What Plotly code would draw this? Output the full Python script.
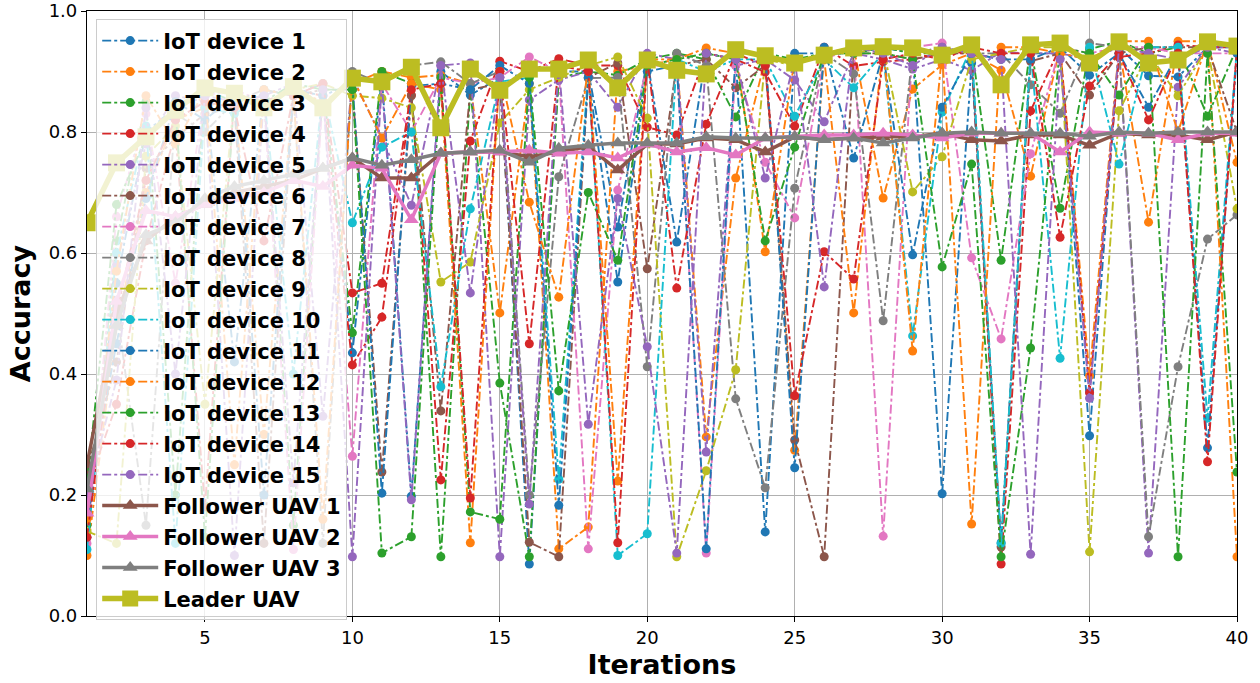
import plotly.graph_objects as go

iterations = list(range(1, 41))

iot_1 = [0.18,0.55,0.80,0.84,0.86,0.42,0.87,0.86,0.88,0.435,
         0.89,0.198,0.90,0.861,0.89,0.086,0.90,0.90,0.643,0.92,
         0.618,0.93,0.92,0.139,0.93,0.93,0.93,0.94,0.93,0.202,
         0.914,0.121,0.93,0.93,0.298,0.94,0.893,0.891,0.94,0.94]
iot_2 = [0.10,0.48,0.70,0.82,0.84,0.86,0.30,0.87,0.85,0.88,
         0.90,0.89,0.894,0.88,0.501,0.88,0.111,0.147,0.90,0.91,
         0.92,0.296,0.724,0.92,0.274,0.93,0.94,0.691,0.871,0.911,
         0.93,0.902,0.727,0.94,0.397,0.94,0.651,0.95,0.95,0.750]
iot_3 = [0.15,0.62,0.85,0.20,0.87,0.85,0.86,0.15,0.87,0.468,
         0.90,0.88,0.098,0.87,0.385,0.098,0.89,0.90,0.894,0.92,
         0.93,0.92,0.825,0.93,0.92,0.93,0.93,0.94,0.93,0.93,
         0.94,0.588,0.94,0.674,0.937,0.95,0.93,0.94,0.826,0.94]
iot_4 = [0.21,0.35,0.62,0.80,0.18,0.86,0.85,0.87,0.86,0.415,
         0.494,0.861,0.225,0.785,0.917,0.90,0.921,0.91,0.91,0.808,
         0.795,0.93,0.92,0.899,0.81,0.94,0.909,0.916,0.92,0.93,
         0.93,0.086,0.835,0.94,0.369,0.924,0.93,0.944,0.94,0.94]
iot_5 = [0.13,0.58,0.78,0.86,0.85,0.10,0.86,0.88,0.33,0.89,
         0.79,0.679,0.91,0.914,0.098,0.853,0.886,0.90,0.841,0.93,
         0.92,0.271,0.91,0.92,0.886,0.817,0.93,0.92,0.904,0.92,
         0.902,0.932,0.93,0.93,0.92,0.94,0.104,0.874,0.94,0.93]
iot_6 = [0.24,0.42,0.74,0.79,0.83,0.84,0.12,0.86,0.87,0.87,
         0.238,0.86,0.339,0.87,0.88,0.122,0.098,0.89,0.914,0.574,
         0.91,0.92,0.873,0.91,0.291,0.098,0.93,0.93,0.92,0.93,
         0.93,0.114,0.917,0.93,0.861,0.93,0.94,0.94,0.94,0.80]
iot_7 = [0.12,0.66,0.83,0.55,0.86,0.87,0.85,0.11,0.86,0.264,
         0.88,0.80,0.89,0.88,0.89,0.924,0.90,0.111,0.704,0.91,
         0.91,0.104,0.91,0.75,0.658,0.92,0.94,0.132,0.94,0.947,
         0.592,0.458,0.764,0.94,0.93,0.94,0.94,0.93,0.93,0.93]
iot_8 = [0.17,0.51,0.15,0.83,0.80,0.85,0.87,0.86,0.12,0.90,
         0.88,0.91,0.916,0.88,0.90,0.20,0.726,0.889,0.89,0.412,
         0.93,0.91,0.359,0.212,0.707,0.93,0.896,0.488,0.93,0.94,
         0.93,0.93,0.878,0.831,0.947,0.94,0.131,0.412,0.623,0.663]
iot_9 = [0.14,0.12,0.76,0.81,0.35,0.86,0.84,0.87,0.88,0.86,
         0.856,0.84,0.552,0.585,0.815,0.87,0.89,0.91,0.924,0.823,
         0.098,0.240,0.407,0.92,0.91,0.93,0.93,0.94,0.701,0.759,
         0.92,0.93,0.94,0.94,0.106,0.835,0.93,0.86,0.94,0.673]
iot_10 = [0.11,0.60,0.81,0.12,0.84,0.83,0.86,0.40,0.87,0.65,
          0.775,0.80,0.379,0.673,0.883,0.89,0.226,0.90,0.10,0.136,
          0.92,0.90,0.92,0.92,0.826,0.92,0.873,0.93,0.463,0.833,
          0.94,0.12,0.93,0.426,0.94,0.747,0.94,0.94,0.327,0.94]
iot_11 = [0.19,0.45,0.69,0.85,0.82,0.86,0.20,0.87,0.86,0.88,
          0.203,0.876,0.88,0.87,0.91,0.88,0.183,0.89,0.552,0.90,
          0.91,0.111,0.93,0.93,0.245,0.94,0.757,0.93,0.597,0.841,
          0.93,0.92,0.92,0.94,0.894,0.93,0.841,0.93,0.278,0.93]
iot_12 = [0.16,0.57,0.86,0.78,0.87,0.25,0.87,0.86,0.16,0.89,
          0.79,0.88,0.87,0.121,0.90,0.684,0.527,0.91,0.223,0.92,
          0.92,0.939,0.93,0.602,0.92,0.92,0.501,0.94,0.438,0.93,
          0.152,0.94,0.94,0.93,0.92,0.95,0.95,0.80,0.95,0.098]
iot_13 = [0.22,0.68,0.79,0.84,0.13,0.86,0.85,0.88,0.87,0.87,
          0.104,0.131,0.89,0.172,0.160,0.89,0.372,0.70,0.588,0.91,
          0.92,0.93,0.92,0.62,0.775,0.93,0.93,0.93,0.92,0.577,
          0.747,0.098,0.443,0.94,0.93,0.861,0.94,0.098,0.93,0.238]
iot_14 = [0.13,0.50,0.72,0.82,0.85,0.84,0.62,0.86,0.88,0.534,
          0.55,0.87,0.88,0.195,0.90,0.45,0.91,0.90,0.121,0.92,
          0.542,0.813,0.93,0.91,0.364,0.602,0.557,0.92,0.93,0.92,
          0.94,0.93,0.93,0.626,0.876,0.93,0.820,0.93,0.255,0.94]
iot_15 = [0.20,0.39,0.84,0.40,0.86,0.85,0.86,0.22,0.87,0.098,
          0.88,0.192,0.91,0.534,0.89,0.185,0.91,0.317,0.69,0.445,
          0.104,0.93,0.92,0.724,0.92,0.544,0.94,0.93,0.91,0.94,
          0.93,0.92,0.102,0.92,0.360,0.94,0.93,0.92,0.94,0.94]

follower_1 = [0.25,0.50,0.62,0.66,0.68,0.70,0.71,0.72,0.74,0.757,
              0.724,0.724,0.765,0.767,0.767,0.759,0.767,0.776,0.737,0.78,
              0.78,0.79,0.787,0.767,0.792,0.787,0.79,0.792,0.792,0.798,
              0.787,0.785,0.795,0.795,0.778,0.798,0.795,0.795,0.787,0.80]
follower_2 = [0.17,0.52,0.67,0.66,0.68,0.69,0.70,0.72,0.71,0.745,
              0.74,0.655,0.765,0.767,0.767,0.770,0.765,0.767,0.757,0.78,
              0.767,0.774,0.762,0.79,0.792,0.795,0.795,0.798,0.795,0.79,
              0.798,0.798,0.798,0.767,0.80,0.798,0.798,0.787,0.798,0.798]
follower_3 = [0.21,0.48,0.63,0.65,0.69,0.71,0.72,0.73,0.74,0.757,
              0.745,0.754,0.765,0.767,0.770,0.750,0.773,0.778,0.782,0.782,
              0.782,0.792,0.79,0.79,0.792,0.787,0.79,0.782,0.79,0.798,
              0.80,0.798,0.798,0.798,0.793,0.80,0.798,0.80,0.80,0.80]
leader = [0.650,0.749,0.792,0.836,0.873,0.864,0.84,0.875,0.84,0.889,
          0.883,0.907,0.807,0.904,0.869,0.904,0.904,0.919,0.873,0.919,
          0.902,0.896,0.936,0.926,0.914,0.927,0.939,0.941,0.939,0.927,
          0.944,0.878,0.944,0.947,0.914,0.949,0.914,0.919,0.949,0.942]

iot_series = [iot_1, iot_2, iot_3, iot_4, iot_5, iot_6, iot_7, iot_8,
              iot_9, iot_10, iot_11, iot_12, iot_13, iot_14, iot_15]
iot_names = [f"IoT device {i}" for i in range(1, 16)]
uav_series = [follower_1, follower_2, follower_3]
uav_names = ["Follower UAV 1", "Follower UAV 2", "Follower UAV 3"]

tab10 = ['#1f77b4', '#ff7f0e', '#2ca02c', '#d62728', '#9467bd',
         '#8c564b', '#e377c2', '#7f7f7f', '#bcbd22', '#17becf']
uav_colors = ['#8c564b', '#e377c2', '#7f7f7f']
leader_color = '#bcbd22'

fig = go.Figure()
for i, (name, ys) in enumerate(zip(iot_names, iot_series)):
    c = tab10[i % 10]
    fig.add_trace(go.Scatter(
        x=iterations, y=ys, name=name, legendgroup=name,
        mode='lines+markers',
        line=dict(color=c, width=1.9, dash='dashdot'),
        marker=dict(color=c, size=9, symbol='circle'),
    ))
for name, ys, c in zip(uav_names, uav_series, uav_colors):
    fig.add_trace(go.Scatter(
        x=iterations, y=ys, name=name, legendgroup=name,
        mode='lines+markers',
        line=dict(color=c, width=3.5),
        marker=dict(color=c, size=13, symbol='triangle-up'),
    ))
fig.add_trace(go.Scatter(
    x=iterations, y=leader, name="Leader UAV", legendgroup="Leader UAV",
    mode='lines+markers',
    line=dict(color=leader_color, width=5.5),
    marker=dict(color=leader_color, size=17, symbol='square'),
))

axis_font = dict(family="DejaVu Sans", size=18, color="black")
title_font = dict(family="DejaVu Sans", size=27, color='black', weight='bold')
fig.update_layout(
    width=1260, height=683,
    margin=dict(l=87, r=23, t=11, b=67),
    plot_bgcolor='white', paper_bgcolor='white',
    font=dict(family="DejaVu Sans", color="black"),
    showlegend=True,
    legend=dict(
        x=0.008, y=0.986, xanchor='left', yanchor='top',
        bgcolor='rgba(255,255,255,0.8)', bordercolor='#cccccc', borderwidth=1,
        font=dict(family="DejaVu Sans", size=21, color='black', weight='bold'),
        tracegroupgap=0.7, itemwidth=56, traceorder='grouped',
    ),
    xaxis=dict(
        range=[1, 40], tickvals=[5, 10, 15, 20, 25, 30, 35, 40],
        showgrid=True, gridcolor='#b0b0b0', gridwidth=1,
        showline=True, linecolor='black', linewidth=1.2, mirror=True,
        ticks='outside', ticklen=5, tickcolor='black', tickfont=axis_font,
        zeroline=False, automargin=False,
        title=dict(text="Iterations", font=title_font, standoff=8),
    ),
    yaxis=dict(
        range=[0, 1], tickvals=[0, 0.2, 0.4, 0.6, 0.8, 1.0], tickformat='.1f',
        showgrid=True, gridcolor='#b0b0b0', gridwidth=1,
        showline=True, linecolor='black', linewidth=1.2, mirror=True,
        ticks='outside', ticklen=5, tickcolor='black', tickfont=axis_font,
        zeroline=False, automargin=False,
        title=dict(text="Accuracy", font=title_font, standoff=10),
    ),
)

fig.write_html("out.html")
